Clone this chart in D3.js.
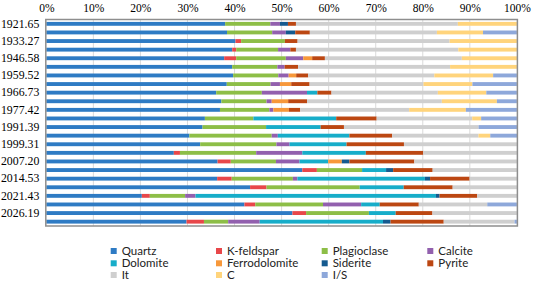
<!DOCTYPE html>
<html><head><meta charset="utf-8">
<script src="https://cdn.jsdelivr.net/npm/d3@7/dist/d3.min.js"></script>
<style>html,body{margin:0;padding:0;background:#fff;}svg{display:block;}</style>
</head><body>
<svg id="chart" width="533" height="282"></svg>
<script>
// Depth categories (only every other one is labelled on the axis)
const depthLabels = ["1921.65","","1933.27","","1946.58","","1959.52","","1966.73","","1977.42","",
  "1991.39","","1999.31","","2007.20","","2014.53","","2021.43","","2026.19",""];
const seriesNames = ["Quartz","K-feldspar","Plagioclase","Calcite","Dolomite","Ferrodolomite","Siderite","Pyrite","It","C","I/S"];
const seriesColors = ["#2e7bc4","#e8474a","#8dbe47","#9260ae","#17adc9","#f7983a","#155a8f","#bc4712","#cfcfcf","#ffd47c","#8ea8da"];
const xTicks = [0,10,20,30,40,50,60,70,80,90,100];

const quartz = [38.0,38.4,40.2,39.5,37.8,39.5,39.7,38.35,36.1,37.2,36.9,33.7,33.2,30.4,32.7,27.1,36.4,54.4,36.3,43.3,20.3,42.1,52.3,29.8];
const kfeldspar = [0,0,1.2,0.85,2.55,0,0,0,0,0,0,0,0,0,0,1.3,2.8,3.1,3.1,3.5,1.7,2.3,2.9,3.7];
const plagioclase = [9.6,9.6,9.3,8.9,10.55,9.6,9.6,9.3,9.7,9.6,10.5,10.3,13.5,17.5,16.2,16.2,9.6,9.6,13.0,19.8,7.5,14.4,13.35,5.15];
const calcite = [2.05,2.9,0,2.6,3.7,1.55,2.2,2.0,9.6,1.1,0.85,0,0,1.3,2.8,9.8,5.0,0,0.95,0,2.2,8.1,0,6.7];
const dolomite = [0,0,0,0,0,0,0,0,2.2,0,0,17.6,11.6,15.2,12.1,13.5,6.1,5.1,27.1,9.35,51.1,3.95,5.7,26.2];
const ferrodolomite = [0,0,0,0,1.9,0,1.6,2.4,0,3.5,3.3,0,0,0,0,0,2.9,0,0,0,0,0,0,0];
const siderite = [1.7,2.0,0,0,0,0,0,0,0,0,0,0,0,0,0,0,1.6,1.5,1.1,0,0.77,0,0,1.6];
const pyrite = [1.7,3.1,2.7,1.2,2.7,2.85,2.55,3.9,3.0,4.0,2.4,8.6,4.95,9.1,12.2,12.2,13.8,8.4,8.4,10.4,8.0,8.3,7.8,11.3];
const illite = [34.4,27.0,32.3,34.5,29.1,32.3,26.8,24.2,22.6,28.65,23.15,20.3,28.6,18.34,24.0,19.9,21.8,17.9,10.05,13.65,8.46,14.55,17.95,15.05];
const cVals = [12.55,9.8,14.3,12.45,11.7,14.2,12.5,10.4,10.3,11.7,12.06,1.9,0,2.5,0,0,0,0,0,0,0,0,0,0];
const isVals = [0,7.2,0,0,0,0,5.05,9.45,6.5,4.25,10.84,7.6,8.16,5.7,0,0,0,0,0,0,0,6.3,0,0.5];

const seriesValues = [quartz,kfeldspar,plagioclase,calcite,dolomite,ferrodolomite,siderite,pyrite,illite,cVals,isVals];

const rows = depthLabels.map((d,i) => {
  const o = {idx: i};
  seriesNames.forEach((s,k) => o[s] = seriesValues[k][i]);
  return o;
});

const SERIF = '"Liberation Serif", "Times New Roman", serif';
const svg = d3.select("#chart");
const plotL = 46.3, plotR = 516.9, plotT = 19.5, plotB = 226;

const x = d3.scaleLinear().domain([0,100]).range([plotL,plotR]);
const y = d3.scaleBand().domain(d3.range(depthLabels.length)).range([plotT,plotB]).paddingInner(0.55).paddingOuter(0.28);
const color = d3.scaleOrdinal().domain(seriesNames).range(seriesColors);

// gridlines
svg.append("g").selectAll("line").data(xTicks.filter(t => t>0 && t<100)).join("line")
  .attr("x1", d => x(d)).attr("x2", d => x(d)).attr("y1", plotT).attr("y2", plotB)
  .attr("stroke", "#dadada").attr("stroke-width", 1);

// bars
const stacked = d3.stack().keys(seriesNames)(rows);
svg.append("g").selectAll("g").data(stacked).join("g")
  .attr("fill", d => color(d.key))
  .selectAll("rect").data(d => d).join("rect")
  .attr("x", d => x(d[0]))
  .attr("width", d => Math.max(0, x(d[1]) - x(d[0])))
  .attr("y", d => y(d.data.idx))
  .attr("height", y.bandwidth());

// frame
svg.append("rect").attr("x", plotL - 0.5).attr("y", plotT).attr("width", plotR - plotL + 1).attr("height", plotB - plotT)
  .attr("fill", "none").attr("stroke", "#8e8e8e").attr("stroke-width", 1.5);

// top axis
const xAxis = d3.axisTop(x).tickValues(xTicks).tickFormat(d => d + "%").tickSize(0).tickPadding(8);
const gx = svg.append("g").attr("transform", `translate(0,${plotT})`).call(xAxis);
gx.select(".domain").remove();
gx.attr("font-family", SERIF).attr("font-size", 11.5);
gx.selectAll("text").style("font-family", SERIF).style("font-size", "11.5px").attr("fill", "#000");

// left axis
const yAxis = d3.axisLeft(y).tickFormat(i => depthLabels[i]).tickSize(0).tickPadding(7);
const gy = svg.append("g").attr("transform", `translate(${plotL},0)`).call(yAxis);
gy.select(".domain").remove();
gy.attr("font-family", SERIF).attr("font-size", 11.5);
gy.selectAll("text").style("font-family", SERIF).style("font-size", "11.8px").attr("fill", "#000");

// legend
const legCols = [110.7, 216, 321.7, 427.3];
const legRows = [251, 263.3, 275];
const leg = svg.append("g");
seriesNames.forEach((s,k) => {
  const cx = legCols[k % 4], cy = legRows[Math.floor(k / 4)];
  leg.append("rect").attr("x", cx).attr("y", cy - 3).attr("width", 6).attr("height", 6).attr("fill", color(s));
  leg.append("text").attr("x", cx + 11).attr("y", cy).attr("dy", "0.35em")
    .style("font-family", "Lato, 'Open Sans', sans-serif").style("font-size", "11.5px").attr("fill", "#222").text(s);
});
</script>
</body></html>
